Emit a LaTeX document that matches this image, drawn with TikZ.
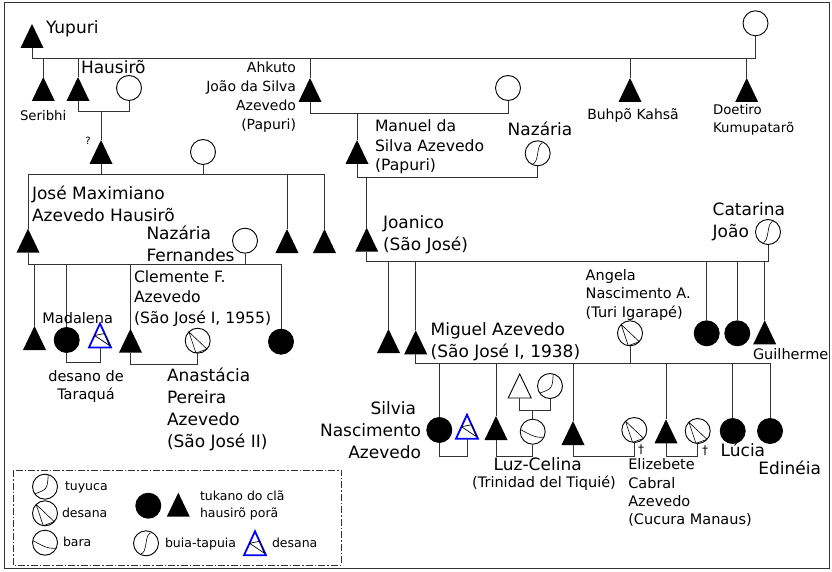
\documentclass[tikz,border=0pt]{standalone}
\usepackage{fontspec}
\setmainfont{DejaVu Sans}
\begin{document}
\begin{tikzpicture}[x=1pt,y=-1pt,
  txt/.style={inner sep=0pt, outer sep=0pt},
  lblbig/.style={txt, font=\fontsize{17}{21.8}\selectfont},
  lblmid/.style={txt, font=\fontsize{15.6}{20.4}\selectfont},
  lblsm/.style={txt, font=\fontsize{14.5}{18.3}\selectfont},
  lblfourteen/.style={txt, font=\fontsize{14}{18.7}\selectfont},
  lblxs/.style={txt, font=\fontsize{13.3}{18}\selectfont},
  lblleg/.style={txt, font=\fontsize{12.5}{16.6}\selectfont},
  conn/.style={line width=1pt, draw=black!80},
  thinline/.style={line width=0.6pt, draw=black},
  pers/.style={circle, draw=black, line width=0.9pt, minimum size=25pt, inner sep=0pt, fill=white},
  filled/.style={pers, fill=black},
  tuyuca/.style={pers, path picture={\begin{scope}[shift={(path picture bounding box.center)}]
      \draw[thinline] (3.24,-12.07) .. controls (2.3,2.5) .. (-10.24,7.17);\end{scope}}},
  desana/.style={pers, path picture={\begin{scope}[shift={(path picture bounding box.center)}]
      \draw[thinline, line join=round] (-8.84,-8.84) -- (-1.74,12.38) -- (9.29,8.36) -- cycle;\end{scope}}},
  bara/.style={pers, path picture={\begin{scope}[shift={(path picture bounding box.center)}]
      \draw[thinline] (-12.31,-2.17) .. controls (-4,2) and (3,7) .. (11.33,5.28);\end{scope}}},
  buia/.style={pers, path picture={\begin{scope}[shift={(path picture bounding box.center)}]
      \draw[thinline] (-6.62,10.6) .. controls (3,12) and (-3,-12) .. (6.62,-10.6);
      \fill (-5.83,9.33) circle (1.5); \fill (5.83,-9.33) circle (1.5);\end{scope}}},
  ftri/.pic={\fill[black] (-11.5,12) -- (0,-12) -- (11.5,12) -- cycle;
      \coordinate (-top) at (0,-12); \coordinate (-bot) at (0,12);},
  wtri/.pic={\draw[black, line width=0.9pt, line join=miter] (-11.5,12) -- (0,-12) -- (11.5,12) -- cycle;
      \coordinate (-top) at (0,-12); \coordinate (-bot) at (0,12);},
  btri/.pic={\draw[blue, line width=1.8pt, line join=miter] (-11,12) -- (0,-12) -- (11,12) -- cycle;
      \draw[black, line width=0.7pt, line join=round] (-5.5,0) -- (4.6,-2) -- (9.5,10) -- cycle;
      \coordinate (-top) at (0,-12); \coordinate (-bot) at (0,12);}
]
\useasboundingbox (0,0) rectangle (832,572);
\draw[line width=1pt, black!80] (4,3) rectangle (829,568);

% levels of the horizontal bars
\coordinate (b0) at (0,59);
\coordinate (b1) at (0,112);
\coordinate (b2) at (0,113.3);
\coordinate (b3) at (0,174.3);
\coordinate (b4) at (0,177.5);
\coordinate (b5) at (0,264);
\coordinate (b6) at (0,362.7);
\coordinate (b7) at (0,364.3);
\coordinate (b8) at (0,261.7);
\coordinate (b9) at (0,363.3);
\coordinate (b10) at (0,456);
\coordinate (b11) at (0,410);
\coordinate (b12) at (0,456.7);

% ---- first generation
\pic (yup) at (32,36) {ftri};
\node[pers] (yc) at (755.5,23.3) {};
\pic (ser) at (43.3,89) {ftri};
\pic (hau) at (78,89) {ftri};
\node[pers] (hc) at (129,88) {};
\pic (ahk) at (310,90) {ftri};
\node[pers] (ac) at (508,88) {};
\pic (buh) at (630,90) {ftri};
\pic (doe) at (746.7,90) {ftri};

% ---- second generation
\pic (q) at (101,152) {ftri};
\node[pers] (jm) at (203,152) {};
\pic (man) at (357,152) {ftri};
\node[buia] (naz) at (537.7,153.3) {};

% ---- third generation
\pic (jose) at (28,240.7) {ftri};
\pic (tA) at (287,241) {ftri};
\pic (tB) at (324.5,241) {ftri};
\node[pers] (nf) at (245,240.7) {};
\pic (jo) at (366.7,239.7) {ftri};
\node[buia] (cat) at (768,232) {};

% ---- fourth generation, left family
\pic (tC) at (34.5,338) {ftri};
\node[filled] (mad) at (66.7,340) {};
\pic (bt1) at (100,335.5) {btri};
\pic (clem) at (130.5,340.7) {ftri};
\node[desana] (anas) at (197.7,340.7) {};
\node[filled] (fD) at (281,341.7) {};

% ---- fourth generation, right family
\pic (tE) at (388.5,341) {ftri};
\pic (mig) at (415.7,342.3) {ftri};
\node[desana] (ang) at (630,333.3) {};
\node[filled] (fF) at (706.7,333.3) {};
\node[filled] (fG) at (737.3,333.3) {};
\pic (gui) at (764.7,332.3) {ftri};

% ---- fifth generation
\node[filled] (sil) at (439.3,430) {};
\pic (bt2) at (467,426.7) {btri};
\pic (tH) at (496,428) {ftri};
\node[bara] (luz) at (532.7,431.7) {};
\pic (wt) at (519.7,386) {wtri};
\node[tuyuca] (tuy) at (550,386) {};
\pic (tI) at (573,433) {ftri};
\node[desana] (eli) at (634.3,430) {};
\pic (tJ) at (666,431.3) {ftri};
\node[desana] (wK) at (697.7,431) {};
\node[filled] (luc) at (732.7,431) {};
\node[filled] (edi) at (770,431) {};

% ---- connectors
\draw[conn] (yup-bot) |- (yc.south |- b0) -- (yc.south);
\foreach \n in {ser,hau,ahk,buh,doe} \draw[conn] (\n-top) -- (\n-top |- b0);

\draw[conn] (hau-bot) |- (hc.south |- b1) -- (hc.south);
\draw[conn] (q-top) -- (q-top |- b1);

\draw[conn] (ahk-bot) |- (ac.south |- b2) -- (ac.south);
\draw[conn] (man-top) -- (man-top |- b2);

\draw[conn] (jose-top) |- (tB-top |- b3) -- (tB-top);
\draw[conn] (q-bot) -- (q-bot |- b3);
\draw[conn] (jm.south) -- (jm.south |- b3);
\draw[conn] (tA-top) -- (tA-top |- b3);

\draw[conn] (man-bot) |- (naz.south |- b4) -- (naz.south);
\draw[conn] (jo-top) -- (jo-top |- b4);

\draw[conn] (jose-bot) |- (fD.north |- b5) -- (fD.north);
\draw[conn] (nf.south) -- (nf.south |- b5);
\foreach \n in {tC-top,mad.north,clem-top} \draw[conn] (\n) -- (\n |- b5);

\draw[conn] (mad.south) |- (bt1-bot |- b6) -- (bt1-bot);
\draw[conn] (clem-bot) |- (anas.south |- b7) -- (anas.south);

\draw[conn] (jo-bot) |- (cat.south |- b8) -- (cat.south);
\foreach \n in {tE-top,mig-top,fF.north,fG.north,gui-top} \draw[conn] (\n) -- (\n |- b8);

\draw[conn] (mig-bot) |- (edi.north |- b9) -- (edi.north);
\draw[conn] (ang.south) -- (ang.south |- b9);
\foreach \n in {sil.north,tH-top,tI-top,tJ-top,luc.north} \draw[conn] (\n) -- (\n |- b9);

\draw[conn] (sil.south) |- (bt2-bot |- b10) -- (bt2-bot);
\draw[conn] (tH-bot) |- (luz.south |- b10) -- (luz.south);
\draw[conn] (wt-bot) |- (tuy.south |- b11) -- (tuy.south);
\draw[conn] (luz.north) -- (luz.north |- b11);
\draw[conn] (tI-bot) |- (eli.south |- b12) -- (eli.south);
\draw[conn] (tJ-bot) |- (wK.south |- b10) -- (wK.south);

% ---- names (multi-line labels are placed by the baseline of their last line)
\node[lblbig, anchor=base west] (tYupuri) at (46,34) {Yupuri};
\node[lblbig, anchor=base west] (tHaus) at (81,74) {Hausirõ};
\node[lblxs, anchor=base west] (tSer) at (20,121) {Seribhi};
\node[txt, font=\fontsize{10}{12}\selectfont] (tQ) at (88,141) {?};
\node[lblfourteen, align=right, anchor=base east] (tAhk) at (296,129.1) {Ahkuto\\João da Silva\\Azevedo\\(Papuri)};
\node[txt, font=\fontsize{15.6}{19.3}\selectfont, align=left, anchor=base west] (tMan) at (375,170.6) {Manuel da\\Silva Azevedo\\(Papuri)};
\node[lblbig, anchor=base] (tNaz) at (540,136) {Nazária};
\node[lblfourteen, anchor=base] (tBuh) at (633,120) {Buhpõ Kahsã};
\node[lblxs, align=left, anchor=base west] (tDoe) at (713,132.5) {Doetiro\\Kumupatarõ};
\node[lblbig, align=left, anchor=base west] (tJose) at (32,221.8) {José Maximiano\\Azevedo Hausirõ};
\node[lblbig, align=left, anchor=base west] (tNF) at (146.5,261.3) {Nazária\\Fernandes};
\node[lblmid, align=left, anchor=base west] (tClem) at (134,323.3) {Clemente F.\\Azevedo\\(São José I, 1955)};
\node[lblsm, anchor=base] (tMad) at (77.7,323) {Madalena};
\node[lblsm, align=center, anchor=base] (tDes) at (86,399.8) {desano de\\Taraquá};
\node[lblbig, align=left, anchor=base west] (tAna) at (167,447) {Anastácia\\Pereira\\Azevedo\\(São José II)};
\node[lblbig, align=left, anchor=base west] (tJoa) at (383,250.4) {Joanico\\(São José)};
\node[lblbig, align=left, anchor=base west] (tCat) at (712.7,237.6) {Catarina\\João};
\node[lblsm, align=left, anchor=base west] (tAng) at (585.7,317.1) {Angela\\Nascimento A.\\(Turi Igarapé)};
\node[lblbig, align=left, anchor=base west] (tMig) at (430.7,357) {Miguel Azevedo\\(São José I, 1938)};
\node[lblsm, anchor=base west] (tGui) at (753,359) {Guilherme};
\node[lblbig, align=right, anchor=base east] (tSil) at (421,458.5) {Silvia\rule{5pt}{0pt}\\Nascimento\\Azevedo};
\node[lblbig, anchor=base] (tLuz) at (537.7,470) {Luz-Celina};
\node[lblsm, anchor=base] (tTrin) at (544,487) {(Trinidad del Tiquié)};
\node[lblsm, align=left, anchor=base west] (tEli) at (628.3,524.8) {Elizebete\\Cabral\\Azevedo\\(Cucura Manaus)};
\node[txt, font=\fontsize{12}{14}\selectfont, anchor=base] (dag1) at (641,453.5) {†};
\node[txt, font=\fontsize{12}{14}\selectfont, anchor=base] (dag2) at (705,454) {†};
\node[lblbig, anchor=base west] (tLuc) at (720.7,456.3) {Lúcia};
\node[lblbig, anchor=base west] (tEdi) at (758.3,474.6) {Edinéia};

% ---- key
\draw[dash pattern=on 7pt off 2pt on 1.5pt off 2pt, line width=0.8pt, black!80] (13.3,470) rectangle (341.7,565);
\node[tuyuca] (kT) at (45,486.7) {};
\node[desana] (kD) at (45,513.3) {};
\node[bara] (kB) at (45,542.7) {};
\node[filled] (kF) at (148.3,505.7) {};
\pic (kM) at (178.3,504.7) {ftri};
\node[buia] (kU) at (146,543.3) {};
\pic (kX) at (255,543.3) {btri};
\node[lblleg, anchor=base west] (kTt) at (65,490.8) {tuyuca};
\node[lblleg, anchor=base west] (kDt) at (62,517.4) {desana};
\node[lblleg, anchor=base west] (kBt) at (63,546.8) {bara};
\node[lblleg, align=left, anchor=base west] (kMt) at (200,517.4) {tukano do clã\\hausirõ porã};
\node[lblleg, anchor=base west] (kUt) at (165,547) {buia-tapuia};
\node[lblleg, anchor=base west] (kXt) at (272,547) {desana};
\end{tikzpicture}
\end{document}
